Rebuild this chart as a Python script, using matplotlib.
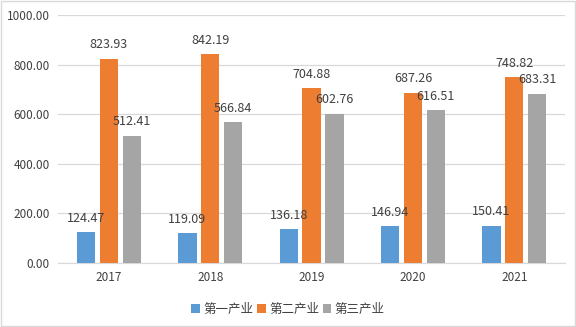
import matplotlib.pyplot as plt
import numpy as np

plt.rcParams['font.family'] = ['Noto Sans CJK SC', 'DejaVu Sans']

# data
years = ['2017', '2018', '2019', '2020', '2021']
series_names = ['第一产业', '第二产业', '第三产业']
primary = [124.47, 119.09, 136.18, 146.94, 150.41]
secondary = [823.93, 842.19, 704.88, 687.26, 748.82]
tertiary = [512.41, 566.84, 602.76, 616.51, 683.31]
colors = ['#5B9BD5', '#ED7D31', '#A5A5A5']
text_color = '#404040'

fig = plt.figure(figsize=(5.76, 3.27), dpi=100)
ax = fig.add_axes([0.101, 0.196, 0.880, 0.758])

x = np.arange(len(years))
width = 0.18
step = 0.225

for i, (vals, name) in enumerate(zip([primary, secondary, tertiary], series_names)):
    pos = x + (i - 1) * step
    ax.bar(pos, vals, width, color=colors[i], label=name, zorder=3)
    for px, v in zip(pos, vals):
        ax.text(px, v + 30, f'{v:.2f}', ha='center', va='bottom',
                fontsize=9, color=text_color, zorder=4)

ax.set_xlim(-0.5, len(years) - 0.5)
ax.set_ylim(0, 1000)
ax.set_yticks(np.arange(0, 1001, 200))
ax.set_yticklabels([f'{v:.2f}' for v in np.arange(0, 1001, 200)])
ax.set_xticks(x)
ax.set_xticklabels(years)
ax.tick_params(axis='both', length=0, labelsize=8.5, colors=text_color)
ax.tick_params(axis='x', pad=6)
ax.tick_params(axis='y', pad=6)
ax.grid(axis='y', color='#D9D9D9', linewidth=0.9, zorder=0)

for s in ['top', 'right', 'left']:
    ax.spines[s].set_visible(False)
ax.spines['bottom'].set_color('#D9D9D9')

fig.legend(loc='lower center', bbox_to_anchor=(0.5, 0.0), ncol=3, frameon=False,
           fontsize=9, handlelength=0.7, handleheight=0.7, handletextpad=0.25,
           columnspacing=0.3, labelcolor=text_color)

# thin figure border
fig.patches.append(plt.Rectangle((0.001, 0.002), 0.997, 0.995, transform=fig.transFigure,
                                 fill=False, edgecolor='#D9D9D9', linewidth=1))

fig.savefig('out.png', dpi=100)
